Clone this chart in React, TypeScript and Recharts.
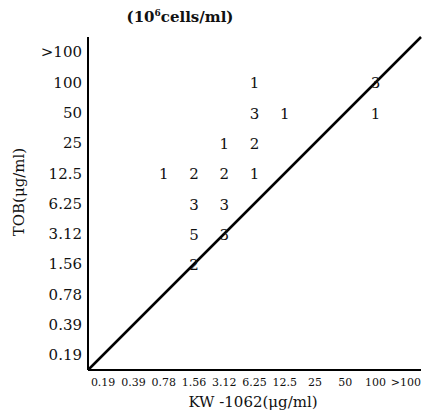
import { ScatterChart, Scatter, XAxis, YAxis, ReferenceLine, Label } from "recharts"

// concentration steps, same for both axes
const kwLevels = ["0.19", "0.39", "0.78", "1.56", "3.12", "6.25", "12.5", "25", "50", "100", ">100"]
const tobLevels = ["0.19", "0.39", "0.78", "1.56", "3.12", "6.25", "12.5", "25", "50", "100", ">100"]

// number of strains at each (KW-1062, TOB) MIC pair
const kwMic = ["0.78", "1.56", "1.56", "1.56", "1.56", "3.12", "3.12", "3.12", "3.12", "6.25", "6.25", "6.25", "6.25", "12.5", "100", "100"]
const tobMic = ["12.5", "12.5", "6.25", "3.12", "1.56", "25", "12.5", "6.25", "3.12", "100", "50", "25", "12.5", "50", "100", "50"]
const strains = [1, 2, 3, 5, 2, 1, 2, 3, 3, 1, 3, 2, 1, 1, 3, 1]

const points = strains.map((n, i) => ({
  x: kwLevels.indexOf(kwMic[i]) + 0.5,
  y: tobLevels.indexOf(tobMic[i]) + 0.5,
  n,
}))

const ticks = kwLevels.map((_, i) => i + 0.5)
const font = "DejaVu Serif"

const CountMark = (props: any) => {
  const { cx, cy, payload } = props
  return (
    <text x={cx} y={cy} dy={6} textAnchor="middle" fontFamily={font} fontSize={15} fill="#111">
      {payload.n}
    </text>
  )
}

export default function App() {
  return (
    <div style={{ position: "absolute", left: 0, top: 0, background: "#fff" }}>
      <ScatterChart width={424} height={415} margin={{ top: 37, right: 3, left: 8, bottom: 15 }}>
        <XAxis
          type="number"
          dataKey="x"
          domain={[0, 11]}
          ticks={ticks}
          interval={0}
          tickFormatter={(v: number) => kwLevels[Math.floor(v)]}
          tickLine={false}
          axisLine={{ stroke: "#000", strokeWidth: 2 }}
          tick={{ fill: "#111", fontFamily: font, fontSize: 11 }}
          tickMargin={2}
          height={30}
        >
          <Label
            content={() => (
              <text x={253} y={407} textAnchor="middle" fontFamily={font} fontSize={15} fill="#111">
                KW -1062(μg/ml)
              </text>
            )}
          />
        </XAxis>
        <YAxis
          type="number"
          dataKey="y"
          domain={[0, 11]}
          ticks={ticks}
          interval={0}
          tickFormatter={(v: number) => tobLevels[Math.floor(v)]}
          tickLine={false}
          axisLine={{ stroke: "#000", strokeWidth: 2 }}
          tick={{ fill: "#111", fontFamily: font, fontSize: 15 }}
          tickMargin={0}
          width={80}
        >
          <Label
            content={() => (
              <g>
                <text x={19} y={192} transform="rotate(-90 19 192)" textAnchor="middle" dominantBaseline="central"
                  fontFamily={font} fontSize={15} fill="#111">
                  TOB(μg/ml)
                </text>
                <text x={180} y={22} textAnchor="middle" fontFamily={font} fontSize={15} fontWeight="bold" fill="#111">
                  (10<tspan fontSize={9} dy={-6}>6</tspan><tspan dy={6}>cells/ml)</tspan>
                </text>
              </g>
            )}
          />
        </YAxis>
        <ReferenceLine
          segment={[{ x: 0, y: 0 }, { x: 11, y: 11 }]}
          stroke="#000"
          strokeWidth={2.5}
          ifOverflow="visible"
        />
        <Scatter data={points} shape={CountMark} isAnimationActive={false} />
      </ScatterChart>
    </div>
  )
}
